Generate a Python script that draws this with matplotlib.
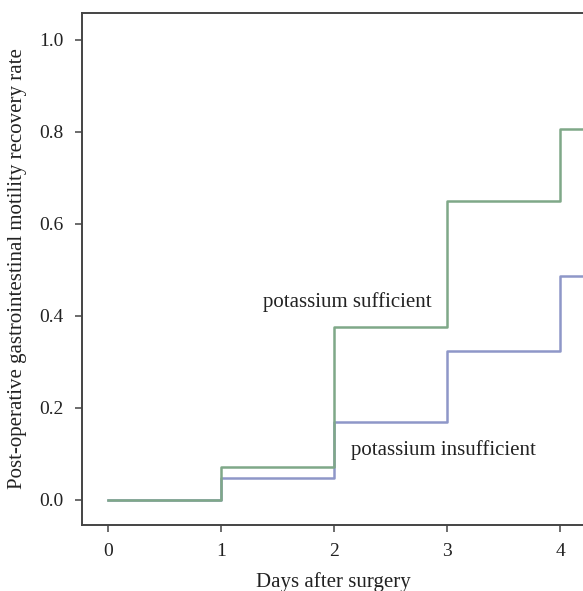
import matplotlib
matplotlib.use("Agg")
import matplotlib.pyplot as plt

days = [0, 1, 2, 3, 4, 5]
sufficient = [0.0, 0.072, 0.377, 0.649, 0.807, 0.807]
insufficient = [0.0, 0.047, 0.169, 0.325, 0.486, 0.486]
xticks = [0, 1, 2, 3, 4]
yticks = [0.0, 0.2, 0.4, 0.6, 0.8, 1.0]

plt.rcParams['font.family'] = ['Liberation Serif', 'DejaVu Serif']

W, H = 583, 591
fig = plt.figure(figsize=(W/100, H/100), dpi=100)
left, right, top, bottom = 82, 583, 13, 525
ax = fig.add_axes([left/W, 1 - bottom/H, (right-left)/W, (bottom-top)/H])

green = '#7fa888'
blue = '#8e97c8'
ax.step(days, insufficient, where='post', color=blue, lw=1.8)
ax.step(days, sufficient, where='post', color=green, lw=1.8)

px_per_day = 113.0
x0 = -(108 - left)/px_per_day
ax.set_xlim(x0, x0 + (right-left)/px_per_day)
ax.set_ylim(-25/460, 487/460)

ax.set_xticks(xticks)
ax.set_xticklabels([str(t) for t in xticks])
ax.set_yticks(yticks)
ax.set_yticklabels([f"{t:.1f}" for t in yticks])
ax.tick_params(direction='out', length=5, width=1.1, colors='#444444', labelsize=14, labelcolor='#222222')
ax.tick_params(axis='y', pad=8)
ax.tick_params(axis='x', pad=8)

for s in ['left', 'bottom', 'top']:
    ax.spines[s].set_color('#444444')
    ax.spines[s].set_linewidth(1.4)
ax.spines['right'].set_visible(False)

ax.text(2.12, 0.430, 'potassium sufficient', ha='center', va='center', fontsize=15, color='#222222')
ax.text(2.97, 0.109, 'potassium insufficient', ha='center', va='center', fontsize=15, color='#222222')

ax.set_xlabel('Days after surgery', fontsize=15, color='#222222', va='center')
ax.xaxis.set_label_coords((333 - left)/(right-left), -(582 - bottom)/(bottom-top))
ax.set_ylabel('Post-operative gastrointestinal motility recovery rate', fontsize=15, color='#222222', va='center')
ax.yaxis.set_label_coords(-(left - 18)/(right-left), 0.5)

fig.savefig('out.png', dpi=100)
